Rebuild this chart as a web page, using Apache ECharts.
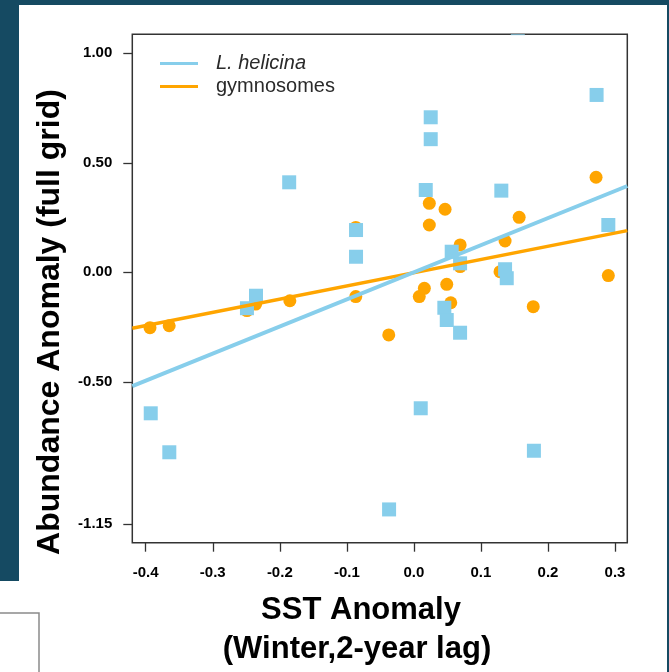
<!DOCTYPE html>
<html>
<head>
<meta charset="utf-8">
<script src="https://cdn.jsdelivr.net/npm/echarts@6/dist/echarts.min.js"></script>
<style>
  html, body { margin: 0; padding: 0; background: #154a62; }
  #chart { width: 669px; height: 672px; }
</style>
</head>
<body>
<div id="chart"></div>
<script>
// SST anomaly (x) vs abundance anomaly (y)
const helicinaSST = [0.155, 0.2725, 0.0251, 0.0251, -0.186, 0.0177, 0.1304, -0.0863, 0.290, -0.0863, 0.0564, 0.0689, 0.136, 0.1385, -0.2355, -0.249, 0.0454, 0.049, 0.0689, -0.3925, -0.3648, 0.0102, -0.037, 0.179];
const helicinaAbund = [1.115, 0.810, 0.708, 0.608, 0.411, 0.376, 0.373, 0.193, 0.216, 0.071, 0.094, 0.041, 0.014, -0.027, -0.107, -0.164, -0.162, -0.218, -0.276, -0.644, -0.822, -0.621, -1.083, -0.815];

const gymnoSST = [-0.3936, -0.365, -0.249, -0.236, -0.185, -0.0867, -0.0867, -0.0375, 0.008, 0.0156, 0.023, 0.023, 0.0465, 0.049, 0.055, 0.069, 0.069, 0.1285, 0.136, 0.157, 0.178, 0.2717, 0.290];
const gymnoAbund = [-0.253, -0.244, -0.175, -0.145, -0.130, -0.111, 0.205, -0.286, -0.111, -0.073, 0.315, 0.216, 0.288, -0.055, -0.139, 0.125, 0.026, 0.003, 0.143, 0.251, -0.157, 0.434, -0.015];

// fitted regression lines: [intercept, slope]
const helicinaFit = [0.0, 1.238];
const gymnoFit = [-0.002, 0.604];

const xTicks = [-0.4, -0.3, -0.2, -0.1, 0.0, 0.1, 0.2, 0.3];
const yTicks = [1.00, 0.50, 0.00, -0.50, -1.15];
const xRange = [-0.42, 0.3183];
const yRange = [-1.235, 1.087];

const seriesNames = ['L. helicina', 'gymnosomes'];

const BLUE = '#87CEEB';
const ORANGE = '#FFA500';
const FONT = '"Liberation Sans", Arial, sans-serif';

function pairs(xs, ys) { return xs.map((x, i) => [x, ys[i]]); }
function fitLine(fit) { return xRange.map(x => [x, fit[0] + fit[1] * x]); }

const chart = echarts.init(document.getElementById('chart'), null, { renderer: 'canvas' });

chart.setOption({
  backgroundColor: '#154a62',
  animation: false,
  graphic: [
    { type: 'rect', z: -100, shape: { x: 19, y: 5, width: 648, height: 667 }, style: { fill: '#ffffff' } },
    { type: 'rect', z: -100, shape: { x: 0, y: 581, width: 667, height: 91 }, style: { fill: '#ffffff' } },
    { type: 'rect', z: -99, shape: { x: -2, y: 613, width: 41, height: 70 }, style: { fill: 'none', stroke: '#8a8a8a', lineWidth: 1.5 } },
    {
      type: 'text', z: 10, x: 50, y: 322, rotation: Math.PI / 2,
      style: { text: 'Abundance Anomaly (full grid)', font: 'bold 32px ' + FONT, fill: '#000', align: 'center', verticalAlign: 'middle' }
    },
    {
      type: 'text', z: 10, x: 361, y: 610,
      style: { text: 'SST Anomaly', font: 'bold 31px ' + FONT, fill: '#000', align: 'center', verticalAlign: 'middle' }
    },
    {
      type: 'text', z: 10, x: 357, y: 649,
      style: { text: '(Winter,2-year lag)', font: 'bold 31px ' + FONT, fill: '#000', align: 'center', verticalAlign: 'middle' }
    }
  ],
  grid: {
    left: 132.3, top: 34.3, right: 41.7, bottom: 129.3,
    show: true, borderColor: '#333', borderWidth: 1.5, backgroundColor: '#fff'
  },
  legend: {
    data: seriesNames,
    orient: 'vertical',
    left: 160, top: 53,
    padding: 0,
    itemGap: 2,
    itemWidth: 38, itemHeight: 3,
    icon: 'rect',
    selectedMode: false,
    textStyle: {
      fontFamily: FONT, fontSize: 20, color: '#2a2a2a', lineHeight: 21, padding: [0, 0, 0, 13],
      rich: { i: { fontStyle: 'italic', fontFamily: FONT, fontSize: 20, color: '#2a2a2a', lineHeight: 21 } }
    },
    formatter: name => name === 'L. helicina' ? '{i|' + name + '}' : name
  },
  xAxis: {
    type: 'value', min: xRange[0], max: xRange[1],
    axisLine: { show: false, onZero: false },
    splitLine: { show: false },
    axisTick: { show: true, length: 9, customValues: xTicks, lineStyle: { color: '#333', width: 1.3 } },
    axisLabel: {
      customValues: xTicks, margin: 23,
      fontFamily: FONT, fontWeight: 'bold', fontSize: 15, color: '#000',
      formatter: v => v.toFixed(1)
    }
  },
  yAxis: {
    type: 'value', min: yRange[0], max: yRange[1],
    axisLine: { show: false, onZero: false },
    splitLine: { show: false },
    axisTick: { show: true, length: 9, customValues: yTicks, lineStyle: { color: '#333', width: 1.3 } },
    axisLabel: {
      customValues: yTicks, margin: 20,
      fontFamily: FONT, fontWeight: 'bold', fontSize: 15, color: '#000',
      formatter: v => v.toFixed(2)
    }
  },
  series: [
    {
      name: 'gymnosomes points', type: 'scatter', z: 2,
      symbol: 'circle', symbolSize: 13,
      itemStyle: { color: ORANGE, opacity: 1 },
      data: pairs(gymnoSST, gymnoAbund)
    },
    {
      // squares clipped to the plot box so marks on the edge show partially
      name: 'helicina points', type: 'custom', z: 3,
      data: pairs(helicinaSST, helicinaAbund),
      renderItem: (params, api) => {
        const p = api.coord([api.value(0), api.value(1)]);
        const s = 14;
        const cs = params.coordSys;
        const shape = echarts.graphic.clipRectByRect(
          { x: p[0] - s / 2, y: p[1] - s / 2, width: s, height: s },
          { x: cs.x, y: cs.y, width: cs.width, height: cs.height }
        );
        return shape ? { type: 'rect', shape: shape, style: { fill: BLUE } } : null;
      }
    },
    {
      name: 'gymnosomes', type: 'line', z: 4,
      showSymbol: false, symbol: 'none',
      lineStyle: { color: ORANGE, width: 3.5 },
      itemStyle: { color: ORANGE },
      data: fitLine(gymnoFit)
    },
    {
      name: 'L. helicina', type: 'line', z: 5,
      showSymbol: false, symbol: 'none',
      lineStyle: { color: BLUE, width: 4 },
      itemStyle: { color: BLUE },
      data: fitLine(helicinaFit)
    }
  ]
});
</script>
</body>
</html>
